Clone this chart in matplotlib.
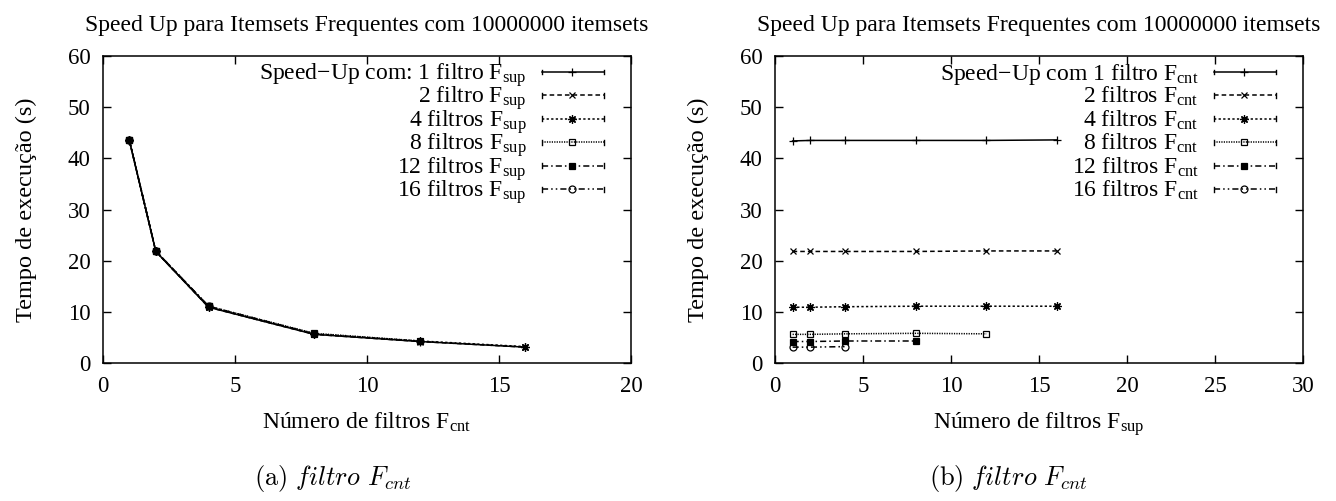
import numpy as np
import matplotlib
matplotlib.use("Agg")
import matplotlib.pyplot as plt

plt.rcParams['font.family'] = ['Liberation Serif', 'DejaVu Serif']
plt.rcParams['mathtext.fontset'] = 'custom'
plt.rcParams['mathtext.rm'] = 'Liberation Serif'
plt.rcParams['mathtext.it'] = 'Liberation Serif:italic'

# number of filters on each side
filtros = [1, 2, 4, 8, 12, 16]

# execution time (s): one row per F_cnt count, one column per F_sup count
tempo = np.array([
    [43.4, 43.5, 43.5, 43.5, 43.5, 43.6],      # 1 F_cnt
    [21.8, 21.8, 21.8, 21.8, 21.9, 21.9],      # 2 F_cnt
    [10.9, 10.9, 11.0, 11.1, 11.1, 11.1],      # 4 F_cnt
    [5.6, 5.6, 5.7, 5.8, 5.7, np.nan],         # 8 F_cnt
    [4.2, 4.2, 4.3, 4.3, np.nan, np.nan],      # 12 F_cnt
    [3.1, 3.1, 3.2, np.nan, np.nan, np.nan],   # 16 F_cnt
])

titulo = "Speed Up para Itemsets Frequentes com 10000000 itemsets"
rotulos_sup = ["Speed\u2212Up com: 1 filtro F$_{\\mathrm{sup}}$",
               "2 filtro F$_{\\mathrm{sup}}$",
               "4 filtros F$_{\\mathrm{sup}}$",
               "8 filtros F$_{\\mathrm{sup}}$",
               "12 filtros F$_{\\mathrm{sup}}$",
               "16 filtros F$_{\\mathrm{sup}}$"]
rotulos_cnt = ["Speed\u2212Up com 1 filtro F$_{\\mathrm{cnt}}$",
               "2 filtros F$_{\\mathrm{cnt}}$",
               "4 filtros F$_{\\mathrm{cnt}}$",
               "8 filtros F$_{\\mathrm{cnt}}$",
               "12 filtros F$_{\\mathrm{cnt}}$",
               "16 filtros F$_{\\mathrm{cnt}}$"]

# gnuplot-like line types 1..6
estilos = ['-', (0, (3, 2)), (0, (1.5, 1.5)), (0, (0.8, 0.8)),
           (0, (4, 2, 1, 2)), (0, (4, 2, 1, 2, 1, 2))]
marcadores = ['+', 'x', (8, 2, 0), 's', 's', 'o']
tamanhos = [5.5, 5, 6, 5, 5, 5]
preenchido = [True, True, True, False, True, False]

fig = plt.figure(figsize=(13.36, 5.01), dpi=100)
ax1 = fig.add_axes([103/1336, 138/501, 528/1336, 307/501])
ax2 = fig.add_axes([775/1336, 138/501, 528/1336, 307/501])


def estilo_marcador(i):
    return dict(marker=marcadores[i], markersize=tamanhos[i],
                markeredgewidth=0.9, markeredgecolor='black',
                markerfacecolor='black' if preenchido[i] else 'none')


def desenha(ax, xs, series, rotulos):
    for i, ys in enumerate(series):
        ok = ~np.isnan(ys)
        ax.plot(np.array(xs)[ok], ys[ok], color='black', lw=1.1,
                linestyle=estilos[i], **estilo_marcador(i))

    # key drawn gnuplot style: text on the left, sample on the right
    y0, dy = 0.948, 0.0765
    for i, rot in enumerate(rotulos):
        y = y0 - i * dy
        ax.text(0.803, y - 0.025, rot, transform=ax.transAxes,
                ha='right', va='baseline', fontsize=17)
        ax.plot([0.831, 0.949], [y, y], transform=ax.transAxes, color='black',
                lw=1.1, linestyle=estilos[i], clip_on=False)
        for xe in (0.831, 0.949):
            ax.plot([xe, xe], [y - 0.008, y + 0.008], transform=ax.transAxes,
                    color='black', lw=1.0, clip_on=False)
        ax.plot([0.889], [y], transform=ax.transAxes, linestyle='none',
                clip_on=False, **estilo_marcador(i))

    ax.set_ylim(0, 60)
    ax.set_yticks(range(0, 61, 10))
    ax.set_title(titulo, fontsize=17, pad=18)
    ax.set_ylabel("Tempo de execução (s)", fontsize=17.5, labelpad=22)
    ax.tick_params(direction='in', length=6, width=1.0, top=True, right=True,
                   labelsize=16.5, pad=9)
    for s in ax.spines.values():
        s.set_linewidth(1.1)


# (a): x = F_cnt, one series per F_sup
desenha(ax1, filtros, [tempo[:, j] for j in range(6)], rotulos_sup)
ax1.set_xlim(0, 20)
ax1.set_xticks(range(0, 21, 5))
ax1.set_xlabel("Número de filtros F$_{\\mathrm{cnt}}$", fontsize=17, labelpad=10)

# (b): x = F_sup, one series per F_cnt
desenha(ax2, filtros, [tempo[i, :] for i in range(6)], rotulos_cnt)
ax2.set_xlim(0, 30)
ax2.set_xticks(range(0, 31, 5))
ax2.set_xlabel("Número de filtros F$_{\\mathrm{sup}}$", fontsize=17, labelpad=10)

fig.text(333/1336, 1 - 478/501, r"$\mathrm{(a)}\ \mathit{filtro}\ F_{cnt}$",
         math_fontfamily='cm', fontsize=19, ha='center', va='center')
fig.text(1008/1336, 1 - 478/501, r"$\mathrm{(b)}\ \mathit{filtro}\ F_{cnt}$",
         math_fontfamily='cm', fontsize=19, ha='center', va='center')

fig.savefig("out.png", dpi=100)
